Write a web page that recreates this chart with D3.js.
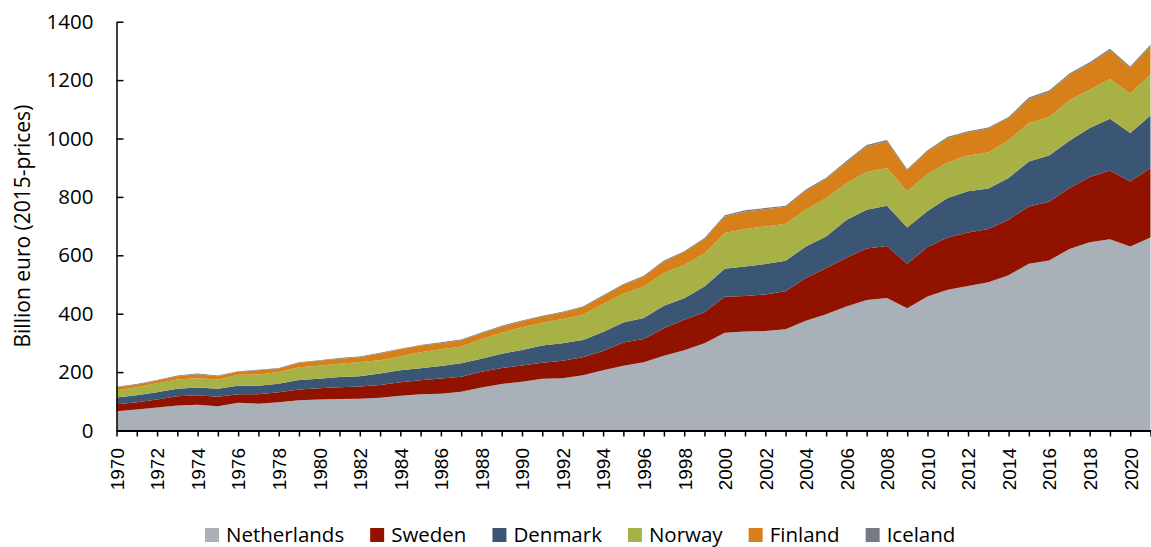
<!DOCTYPE html>
<html>
<head>
<meta charset="utf-8">
<script src="https://cdn.jsdelivr.net/npm/d3@7"></script>
<style>
  html, body { margin: 0; padding: 0; background: #fff; }
  svg { display: block; }
</style>
</head>
<body>
<div id="chart"></div>
<script>
'use strict';

var years = d3.range(1970, 2022);

var netherlands = [66, 72, 79, 86, 88, 83, 95, 92, 97, 104, 106, 108, 109, 112, 119, 124, 126, 133, 147, 159,
  167, 177, 179, 189, 206, 222, 234, 256, 275, 299, 335, 339, 341, 347, 376, 398, 425, 447, 454, 419,
  459, 482, 495, 508, 532, 571, 582, 622, 645, 655, 630, 661];
var sweden = [24, 25, 27, 31, 33, 33, 29, 32, 34, 36, 39, 40, 42, 44, 46, 48, 52, 51, 54, 55,
  56, 55, 60, 62, 66, 79, 79, 94, 104, 106, 123, 122, 125, 130, 146, 158, 167, 176, 178, 152,
  169, 179, 183, 182, 190, 196, 201, 208, 223, 235, 223, 238];
var denmark = [23, 24, 25, 26, 26, 27, 29, 29, 29, 33, 32, 35, 35, 39, 41, 41, 43, 46, 45, 49,
  53, 59, 60, 59, 65, 69, 72, 77, 74, 88, 96, 101, 104, 104, 108, 108, 129, 133, 138, 124,
  124, 135, 141, 139, 143, 154, 159, 162, 168, 178, 166, 180];
var norway = [25, 27, 31, 32, 32, 32, 38, 39, 40, 44, 45, 46, 49, 46, 47, 55, 57, 57, 67, 72,
  78, 78, 83, 86, 96, 98, 108, 112, 114, 114, 122, 128, 129, 127, 126, 132, 126, 129, 129, 124,
  126, 123, 123, 123, 129, 132, 132, 139, 131, 136, 135, 140];
var finland = [10, 9, 9, 11, 14, 11, 10, 14, 12, 15, 17, 17, 16, 23, 25, 23, 21, 22, 20, 21,
  20, 21, 22, 26, 27, 31, 34, 40, 44, 49, 57, 60, 59, 58, 65, 66, 71, 88, 91, 72,
  78, 83, 79, 82, 76, 82, 85, 87, 89, 98, 88, 97];
var iceland = [2, 2, 2, 2, 2, 2, 2, 2, 2, 2, 2, 2, 2, 2, 2, 2, 3, 3, 3, 3,
  3, 3, 3, 3, 3, 3, 3, 3, 3, 3, 4, 4, 4, 4, 4, 4, 5, 5, 5, 4,
  4, 4, 4, 4, 4, 5, 5, 5, 5, 5, 5, 5];

var countries = ['Netherlands', 'Sweden', 'Denmark', 'Norway', 'Finland', 'Iceland'];
var colors = ['#aab0b7', '#921200', '#3a5674', '#a7b145', '#d77f18', '#747b83'];
var yTicks = [0, 200, 400, 600, 800, 1000, 1200, 1400];

var width = 1151;
var height = 547;
var margin = { top: 21.7, right: 0.5, bottom: 116.5, left: 116.5 };

var rows = years.map(function (yr, i) {
  return {
    year: yr,
    Netherlands: netherlands[i],
    Sweden: sweden[i],
    Denmark: denmark[i],
    Norway: norway[i],
    Finland: finland[i],
    Iceland: iceland[i]
  };
});

var series = d3.stack().keys(countries)(rows);

var x = d3.scaleLinear().domain([1970, 2021]).range([margin.left, width - margin.right]);
var y = d3.scaleLinear().domain([0, 1400]).range([height - margin.bottom, margin.top]);
var color = d3.scaleOrdinal().domain(countries).range(colors);

var svg = d3.select('#chart').append('svg')
  .attr('width', width)
  .attr('height', height);

var area = d3.area()
  .x(function (d) { return x(d.data.year); })
  .y0(function (d) { return y(d[0]); })
  .y1(function (d) { return y(d[1]); });

svg.append('g').selectAll('path')
  .data(series)
  .enter().append('path')
  .attr('d', area)
  .attr('fill', function (d) { return color(d.key); });

// y axis, ticks pointing into the plot
var yAxis = d3.axisLeft(y).tickValues(yTicks).tickFormat(d3.format('d'))
  .tickSizeInner(-7).tickSizeOuter(0).tickPadding(23);
var yAxisG = svg.append('g')
  .attr('transform', 'translate(' + margin.left + ',0)')
  .call(yAxis);
yAxisG.select('.domain').attr('stroke', '#000').attr('stroke-width', 1.5);
yAxisG.selectAll('.tick line').attr('stroke', '#000').attr('stroke-width', 1.5);
yAxisG.selectAll('text')
  .style('font-family', '"Open Sans", sans-serif')
  .style('font-size', '20.5px')
  .attr('fill', '#000');

// x axis, one tick per year, label every second year
var xAxis = d3.axisBottom(x).tickValues(years).tickSizeInner(6).tickSizeOuter(0)
  .tickFormat(function (d) { return d % 2 === 0 ? d : ''; });
var xAxisG = svg.append('g')
  .attr('transform', 'translate(0,' + y(0) + ')')
  .call(xAxis);
xAxisG.select('.domain').attr('stroke', '#000').attr('stroke-width', 2);
xAxisG.selectAll('.tick line').attr('stroke', '#000').attr('stroke-width', 1.5);
xAxisG.selectAll('text')
  .attr('transform', 'rotate(-90)')
  .attr('x', -17.5)
  .attr('y', 0)
  .attr('dy', '0.36em')
  .attr('text-anchor', 'end')
  .style('font-family', '"Liberation Sans", Arial, sans-serif')
  .style('font-size', '19px')
  .attr('fill', '#000');

svg.append('text')
  .attr('transform', 'translate(30,' + ((y(0) + y(1400)) / 2) + ') rotate(-90)')
  .attr('text-anchor', 'middle')
  .style('font-family', '"Open Sans", sans-serif')
  .style('font-size', '21px')
  .attr('fill', '#000')
  .text('Billion euro (2015-prices)');

// legend
var legend = svg.append('g').attr('transform', 'translate(0,535)');
var lx = 205;
countries.forEach(function (c) {
  legend.append('rect')
    .attr('x', lx)
    .attr('y', -7)
    .attr('width', 14)
    .attr('height', 14)
    .attr('fill', color(c));
  var t = legend.append('text')
    .attr('x', lx + 21)
    .attr('y', 0)
    .attr('dy', '0.35em')
    .style('font-family', '"Open Sans", sans-serif')
    .style('font-size', '20.5px')
    .attr('fill', '#000')
    .text(c);
  lx += 21 + t.node().getComputedTextLength() + 26;
});
</script>
</body>
</html>
